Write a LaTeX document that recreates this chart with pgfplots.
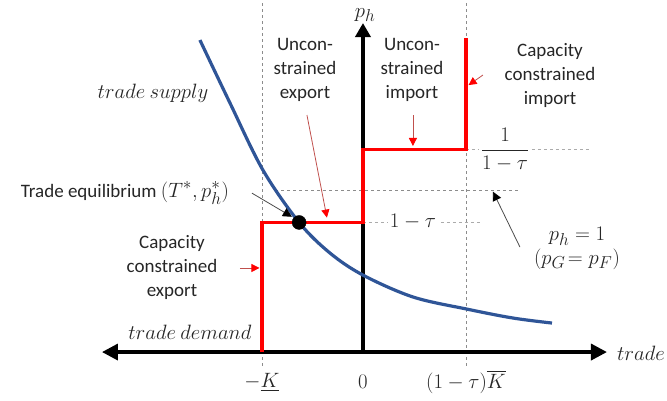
\documentclass[border=0pt]{standalone}
\usepackage{amsmath}
\usepackage{fontspec}
\setmainfont{Carlito}
\DeclareMathSizes{19}{22}{16}{12}
\usepackage{pgfplots}
\pgfplotsset{compat=1.18}
\usetikzlibrary{arrows.meta}
\definecolor{SupplyBlue}{HTML}{2F5597}
\definecolor{StepRed}{HTML}{FF0000}
\definecolor{NoteRed}{HTML}{C0504D}
\definecolor{DashGray}{HTML}{8C8C8C}
\definecolor{LightDash}{HTML}{ABABAB}

\begin{document}
\begin{tikzpicture}[
    lbl/.style={align=center, font=\fontsize{19}{24}\selectfont, inner sep=0pt, text=black!85},
    note/.style={NoteRed, line width=0.8pt, -{Triangle[length=8pt,width=8pt,color=StepRed]}},
    bnote/.style={black!70, line width=0.8pt, -{Triangle[length=9pt,width=9pt,color=black]}},
]
\useasboundingbox (0,0) rectangle (667pt,400pt);
\begin{axis}[
    at={(0,0)}, anchor=south west,
    x=103pt, y=162pt,
    xmin=-3.524, xmax=2.951, ymin=-0.296, ymax=2.173,
    hide axis, clip=true,
]
% guide lines
\draw[DashGray, dashed, line width=0.7pt] (axis cs:-0.98,-0.086) -- (axis cs:-0.98,2.2);
\draw[DashGray, dashed, line width=0.7pt] (axis cs:1.0,-0.086) -- (axis cs:1.0,2.2);
\draw[LightDash, dashed, line width=1pt] (axis cs:1.0,1.25) -- (axis cs:2.204,1.25);
\draw[DashGray, dashed, line width=0.8pt] (axis cs:-0.854,1.0) -- (axis cs:1.505,1.0);
\draw[LightDash, dashed, line width=1pt] (axis cs:0,0.8) -- (axis cs:1.136,0.8);

% axes
\draw[black, line width=3.5pt, {Triangle[length=16pt,width=16pt]}-{Triangle[length=16pt,width=16pt]}]
    (axis cs:-2.534,0) -- (axis cs:2.369,0);
\draw[black, line width=3.5pt, -{Triangle[length=14pt,width=15pt]}]
    (axis cs:0,0) -- (axis cs:0,2.031);

% trade supply / demand curve
\addplot[SupplyBlue, line width=3.2pt, smooth, tension=0.55] coordinates {
    (-1.583,1.926) (-1.291,1.537) (-0.971,1.123) (-0.620,0.800) (-0.320,0.611)
    (0,0.475) (0.485,0.340) (1.010,0.265) (1.456,0.210) (1.835,0.179)
};

% step: export capacity, export, import, import capacity
\addplot[StepRed, line width=3.6pt, line join=miter] coordinates {
    (-0.98,0) (-0.98,0.80) (0,0.80) (0,1.25) (1.0,1.25) (1.0,1.94)
};

% trade equilibrium
\addplot[only marks, mark=*, mark size=7pt, black] coordinates {(-0.62,0.80)};

% annotation arrows
\draw[note] (axis cs:-0.544,1.463) -- (axis cs:-0.350,0.830);
\draw[note] (axis cs:0.485,1.463) -- (axis cs:0.485,1.272);
\draw[note] (axis cs:1.165,1.710) -- (axis cs:1.025,1.648);
\draw[note] (axis cs:-1.194,0.519) -- (axis cs:-1.005,0.519);
\draw[bnote] (axis cs:-1.078,0.981) -- (axis cs:-0.690,0.835);
\draw[bnote] (axis cs:1.524,0.648) -- (axis cs:1.262,0.990);

% labels
\node[lbl] at (axis cs:-0.563,1.741) {Uncon-\\strained\\export};
\node[lbl] at (axis cs:0.476,1.741) {Uncon-\\strained\\import};
\node[lbl] at (axis cs:1.816,1.710) {Capacity\\constrained\\import};
\node[lbl] at (axis cs:-1.854,0.519) {Capacity\\constrained\\export};
\node[lbl] at (axis cs:-2.311,0.981) {Trade equilibrium $(T^*,p_h^*)$};
\node[lbl] at (axis cs:-2.039,1.599) {$trade\ supply$};
\node[lbl] at (axis cs:-1.680,0.123) {$trade\ demand$};
\node[lbl, anchor=west] at (axis cs:2.466,-0.005) {$trade$};
\node[lbl] at (axis cs:0.02,2.08) {$p_h$};
\node[lbl, fill=white, inner sep=2pt] at (axis cs:1.379,1.247) {$\dfrac{1}{1-\tau}$};
\node[lbl, fill=white, inner sep=2pt] at (axis cs:0.485,0.802) {$1-\tau$};
\node[lbl] at (axis cs:2.078,0.642) {$p_h=1$\\$(p_G\!=p_F)$};
\node[lbl] at (axis cs:-0.981,-0.185) {$-\underline{K}$};
\node[lbl] at (axis cs:0,-0.185) {$0$};
\node[lbl] at (axis cs:1.0,-0.185) {$(1-\tau)\overline{K}$};
\end{axis}
\end{tikzpicture}
\end{document}
